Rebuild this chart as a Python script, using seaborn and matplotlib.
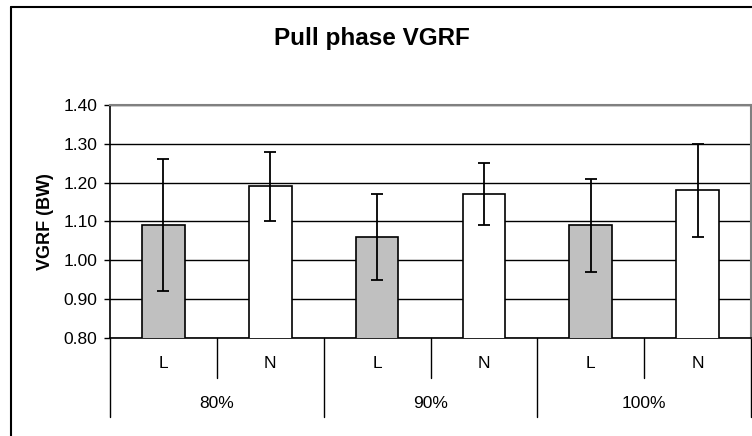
import matplotlib
matplotlib.use("Agg")
import matplotlib.pyplot as plt
import matplotlib.lines as mlines
import seaborn as sns
import pandas as pd
import numpy as np

# ---- data ----
groups = ["80%", "90%", "100%"]
conditions = ["L", "N"]
means = [1.09, 1.19, 1.06, 1.17, 1.09, 1.18]
err_low = [0.92, 1.10, 0.95, 1.09, 0.97, 1.06]
err_high = [1.26, 1.28, 1.17, 1.25, 1.21, 1.30]
yticks = [0.80, 0.90, 1.00, 1.10, 1.20, 1.30, 1.40]
title = "Pull phase VGRF"
ylabel = "VGRF (BW)"

sns.set_theme(style="white")
plt.rcParams["font.family"] = ["Liberation Sans", "DejaVu Sans"]
plt.rcParams["text.color"] = "black"
plt.rcParams["axes.labelcolor"] = "black"
plt.rcParams["ytick.color"] = "black"
plt.rcParams["xtick.color"] = "black"

cats = [f"{g}-{c}" for g in groups for c in conditions]
df = pd.DataFrame({
    "cat": cats,
    "cond": [c for g in groups for c in conditions],
    "value": means,
})

W, H = 752, 436
fig = plt.figure(figsize=(W / 100, H / 100), dpi=100)
L, R, T, B = 110, 751, 105, 337.7
ax = fig.add_axes([L / W, 1 - B / H, (R - L) / W, (B - T) / H])

sns.barplot(data=df, x="cat", y="value", hue="cond", order=cats,
            hue_order=conditions, palette={"L": "#C0C0C0", "N": "#FFFFFF"},
            dodge=False, width=0.4, edgecolor="black", linewidth=1.2,
            errorbar=None, legend=False, ax=ax, zorder=3)

x = np.arange(len(cats))
m = np.array(means)
yerr = np.vstack([m - np.array(err_low), np.array(err_high) - m])
ax.errorbar(x, m, yerr=yerr, fmt="none", ecolor="black", elinewidth=1.3,
            capsize=4.3, capthick=1.3, zorder=4)

ax.set_ylim(0.80, 1.40)
ax.set_xlim(-0.5, len(cats) - 0.5)
ax.set_yticks(yticks)
ax.set_yticklabels([f"{v:.2f}" for v in yticks], fontsize=12.5, color="black")
ax.yaxis.grid(True, color="black", linewidth=1.0, zorder=0)
ax.set_axisbelow(True)
ax.tick_params(axis="y", which="major", left=True, length=4, width=1,
               color="black", pad=5)
ax.set_xticks([])
ax.set_xlabel("")
ax.set_ylabel(ylabel, fontsize=13, fontweight="bold", labelpad=7, color="black")

for s in ["left", "bottom"]:
    ax.spines[s].set_color("black")
    ax.spines[s].set_linewidth(1.2)
for s in ["top", "right"]:
    ax.spines[s].set_color("#808080")
    ax.spines[s].set_linewidth(1.5)

# multi-level category axis
ah = B - T
inner_y = -(377.7 - B) / ah
outer_y = -(417 - B) / ah
lab1_y = -(363 - B) / ah
lab2_y = -(403 - B) / ah
tr = ax.get_xaxis_transform()
for i in range(len(cats) + 1):
    xb = i - 0.5
    yb = outer_y if i % 2 == 0 else inner_y
    ax.add_line(mlines.Line2D([xb, xb], [0, yb], transform=tr, color="black",
                              linewidth=1.0, clip_on=False))
for i, c in enumerate(df["cond"]):
    ax.text(i, lab1_y, c, transform=tr, ha="center", va="center",
            fontsize=12.5, color="black")
for gi, g in enumerate(groups):
    ax.text(2 * gi + 0.5, lab2_y, g, transform=tr, ha="center", va="center",
            fontsize=12.5, color="black")

fig.text(372 / W, 1 - 39 / H, title, ha="center", va="center", fontsize=17.5,
         fontweight="bold", color="black")

# chart-area border (extends past the image on right and bottom)
fig.add_artist(mlines.Line2D([11 / W, 1.0], [1 - 7 / H, 1 - 7 / H],
                             transform=fig.transFigure, color="black", linewidth=1.5))
fig.add_artist(mlines.Line2D([11 / W, 11 / W], [0, 1 - 7 / H],
                             transform=fig.transFigure, color="black", linewidth=1.5))

fig.savefig("out.png", dpi=100, facecolor="white")
